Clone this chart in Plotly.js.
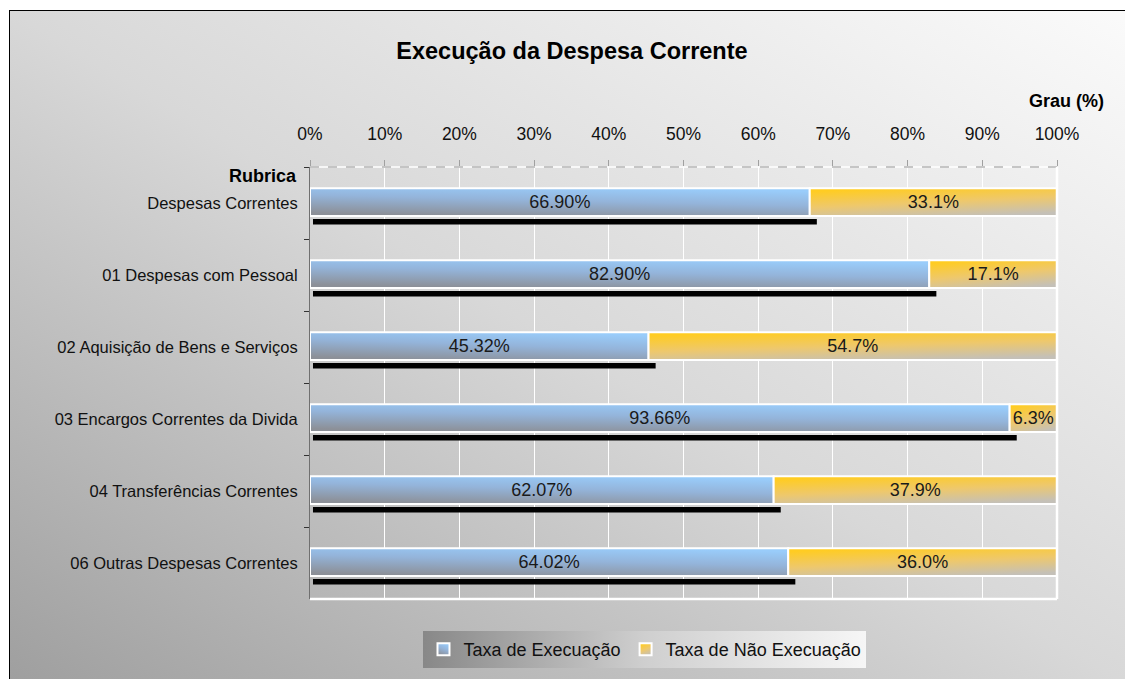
<!DOCTYPE html>
<html>
<head>
<meta charset="utf-8">
<script src="https://cdn.plot.ly/plotly-3.0.1.min.js"></script>
<style>
  html, body { margin: 0; padding: 0; background: #ffffff; overflow: hidden; width: 1125px; height: 679px; }
  #wrap {
    position: absolute; left: 9px; top: 10px; width: 1130px; height: 680px;
    border-left: 1px solid #000; border-top: 1px solid #000;
    background: linear-gradient(to top right, #9e9e9e 0%, #d8d8d8 50%, #fbfbfb 100%);
    overflow: hidden;
  }
  #chart { width: 1115px; height: 668px; }
</style>
</head>
<body>
<div id="wrap"><div id="chart"></div></div>
<script>
const categories = [
  "Despesas Correntes",
  "01 Despesas com Pessoal",
  "02 Aquisição de Bens e Serviços",
  "03 Encargos Correntes da Divida",
  "04 Transferências Correntes",
  "06 Outras Despesas Correntes"
];
const taxaExecucao = [66.90, 82.90, 45.32, 93.66, 62.07, 64.02];
const taxaNaoExecucao = [33.10, 17.10, 54.68, 6.34, 37.93, 35.98];
const xTickValues = [0, 10, 20, 30, 40, 50, 60, 70, 80, 90, 100];
const seriesNames = ["Taxa de Execuação", "Taxa de Não Execuação"];

const FONT = "Liberation Sans, Arial, sans-serif";

const shadow = {
  type: "bar", orientation: "h",
  y: categories,
  x: taxaExecucao.map(v => v + 0.55),
  base: taxaExecucao.map(() => 0.4),
  offset: 0.222, width: 0.075,
  marker: { color: "#000000", line: { width: 0 } },
  showlegend: false, hoverinfo: "skip"
};
const exec = {
  type: "bar", orientation: "h", name: seriesNames[0],
  y: categories, x: taxaExecucao,
  base: taxaExecucao.map(() => 0),
  offset: -0.205, width: 0.385,
  marker: { color: "#96b6dc", line: { color: "#ffffff", width: 2 } },
  text: taxaExecucao.map(v => v.toFixed(2) + "%"),
  textposition: "inside", insidetextanchor: "middle", constraintext: "none",
  textfont: { family: FONT, size: 18, color: "#1a1a1a" },
  hoverinfo: "x+y"
};
const naoExec = {
  type: "bar", orientation: "h", name: seriesNames[1],
  y: categories, x: taxaNaoExecucao,
  base: taxaExecucao,
  offset: -0.205, width: 0.385,
  marker: { color: "#eac56c", line: { color: "#ffffff", width: 2 } },
  text: taxaNaoExecucao.map(v => v.toFixed(1) + "%"),
  textposition: "inside", insidetextanchor: "middle", constraintext: "none",
  textfont: { family: FONT, size: 18, color: "#1a1a1a" },
  hoverinfo: "x+y"
};

const layout = {
  width: 1115, height: 668,
  paper_bgcolor: "rgba(0,0,0,0)",
  plot_bgcolor: "rgba(0,0,0,0)",
  margin: { l: 300, r: 68, t: 156, b: 80, pad: 0 },
  barmode: "overlay",
  font: { family: FONT, size: 16, color: "#111111" },
  title: {
    text: "<b>Execução da Despesa Corrente</b>",
    font: { family: FONT, size: 23.5, color: "#000000" },
    x: 0.504, xref: "container", xanchor: "center",
    y: 0.94, yref: "container", yanchor: "middle"
  },
  xaxis: {
    side: "top", range: [0, 100], tickvals: xTickValues,
    ticktext: xTickValues.map(v => v + "%"),
    showgrid: true, gridcolor: "#ffffff", gridwidth: 1,
    zeroline: false, showline: false,
    ticks: "outside", ticklen: 6, tickcolor: "#a0a0a0",
    ticklabelstandoff: 13,
    tickfont: { family: FONT, size: 17.5, color: "#111111" },
    fixedrange: true
  },
  yaxis: {
    type: "category", autorange: "reversed",
    showgrid: false, zeroline: false,
    showline: true, linecolor: "#707070", linewidth: 1,
    ticks: "outside", tickson: "boundaries", ticklen: 5, tickcolor: "#333333",
    ticklabelstandoff: 8,
    tickfont: { family: FONT, size: 16.5, color: "#111111" },
    fixedrange: true
  },
  shapes: [
    { type: "line", xref: "paper", yref: "paper", x0: 0, x1: 1, y0: 1, y1: 1,
      line: { color: "#ffffff", width: 1.5 } },
    { type: "line", xref: "paper", yref: "paper", x0: 0, x1: 1, y0: 1, y1: 1,
      line: { color: "#b4b4b4", width: 1.5, dash: "dash" } },
    { type: "line", xref: "paper", yref: "paper", x0: 0, x1: 1, y0: 0, y1: 0,
      line: { color: "#ffffff", width: 2.5 } },
    { type: "line", xref: "paper", yref: "paper", x0: 1, x1: 1, y0: 0, y1: 1,
      line: { color: "#ffffff", width: 2.5 } }
  ],
  annotations: [
    { text: "<b>Rubrica</b>", xref: "paper", yref: "paper", x: -0.015, y: 0.98,
      xanchor: "right", yanchor: "middle", showarrow: false,
      font: { family: FONT, size: 18, color: "#000000" } },
    { text: "<b>Grau (%)</b>", xref: "paper", yref: "paper", x: 1.066, y: 1.152,
      xanchor: "right", yanchor: "middle", showarrow: false,
      font: { family: FONT, size: 18, color: "#000000" } }
  ],
  legend: {
    orientation: "h", xref: "container", yref: "container",
    x: 0.5695, y: 0.044, xanchor: "center", yanchor: "middle",
    bgcolor: "#cccccc", borderwidth: 0,
    font: { family: FONT, size: 18, color: "#111111" },
    itemwidth: 16, tracegroupgap: 0, traceorder: "normal"
  },
  showlegend: true
};

Plotly.newPlot("chart", [shadow, exec, naoExec], layout, { displayModeBar: false, staticPlot: true })
.then(gd => {
  const svg = gd.querySelector("svg.main-svg");
  const NS = "http://www.w3.org/2000/svg";
  let defs = svg.querySelector("defs");
  if (!defs) { defs = document.createElementNS(NS, "defs"); svg.insertBefore(defs, svg.firstChild); }
  function grad(id, x1, y1, x2, y2, stops) {
    const g = document.createElementNS(NS, "linearGradient");
    g.setAttribute("id", id);
    g.setAttribute("x1", x1); g.setAttribute("y1", y1);
    g.setAttribute("x2", x2); g.setAttribute("y2", y2);
    stops.forEach(s => {
      const st = document.createElementNS(NS, "stop");
      st.setAttribute("offset", s[0]); st.setAttribute("stop-color", s[1]);
      g.appendChild(st);
    });
    defs.appendChild(g);
  }
  grad("gBlue", "0.3", "1", "0.7", "0", [["0", "#8c9098"], ["0.55", "#94b4da"], ["1", "#99ccfa"]]);
  grad("gGold", "0.3", "0", "0.7", "1", [["0", "#ffcc22"], ["0.5", "#eec86c"], ["1", "#c4c0b8"]]);
  grad("gLeg", "0", "0", "1", "0", [["0", "#888888"], ["0.5", "#cfcfcf"], ["1", "#f6f6f6"]]);
  const traces = gd.querySelectorAll(".barlayer .trace");
  if (traces[1]) traces[1].querySelectorAll("path").forEach(p => p.style.fill = "url(#gBlue)");
  if (traces[2]) traces[2].querySelectorAll("path").forEach(p => p.style.fill = "url(#gGold)");
  const legendItems = gd.querySelectorAll(".legend .traces");
  legendItems.forEach((t, i) => {
    t.querySelectorAll(".legendpoints path").forEach(p => {
      p.style.fill = i === 0 ? "url(#gBlue)" : "url(#gGold)";
    });
  });
  const bg = gd.querySelector(".legend .bg");
  if (bg) bg.style.fill = "url(#gLeg)";
});
</script>
</body>
</html>
